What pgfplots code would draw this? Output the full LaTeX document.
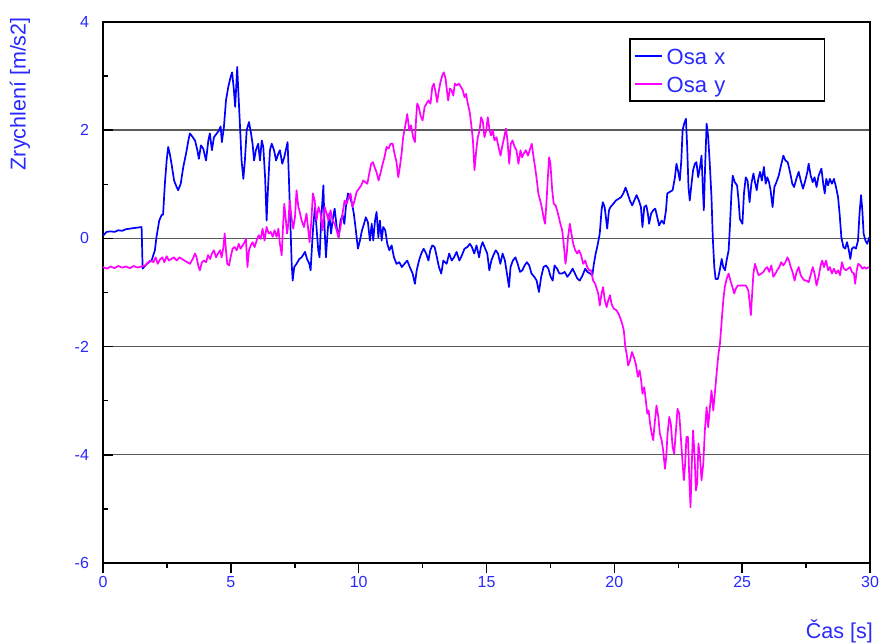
\documentclass[border=0pt]{standalone}
\usepackage{pgfplots}
\pgfplotsset{compat=1.18}
\usepackage{pgfplotstable}
\usepackage{fontspec}
\setmainfont{Liberation Sans}

\definecolor{txtblue}{RGB}{40,40,255}
\definecolor{serx}{RGB}{0,0,255}
\definecolor{sery}{RGB}{255,0,255}
\definecolor{gridgray}{RGB}{90,90,90}

% acceleration along the x axis [m/s2] against time [s]
\pgfplotstableread{
t a
0.00 0.05
0.14 0.12
0.30 0.13
0.45 0.12
0.60 0.15
0.75 0.14
0.90 0.17
1.05 0.18
1.20 0.19
1.35 0.20
1.51 0.21
1.55 -0.56
1.71 -0.47
1.90 -0.41
2.03 -0.22
2.09 0.02
2.20 0.33
2.29 0.43
2.35 0.44
2.42 1.01
2.49 1.44
2.55 1.69
2.61 1.57
2.69 1.35
2.78 1.07
2.88 0.95
2.94 0.89
3.04 1.01
3.14 1.32
3.25 1.57
3.34 1.81
3.40 1.94
3.51 1.87
3.60 1.81
3.69 1.63
3.75 1.47
3.83 1.72
3.92 1.66
4.03 1.44
4.12 1.81
4.18 1.94
4.26 1.63
4.34 1.87
4.45 1.94
4.54 2.00
4.60 2.07
4.65 1.78
4.73 2.06
4.81 2.55
4.90 2.80
4.99 2.98
5.05 3.07
5.12 2.74
5.17 2.43
5.25 3.17
5.31 2.55
5.36 2.06
5.42 1.44
5.49 1.10
5.55 1.44
5.62 2.00
5.71 2.15
5.79 1.94
5.85 1.75
5.91 1.44
5.98 1.63
6.07 1.75
6.14 1.44
6.21 1.81
6.27 1.69
6.34 1.13
6.40 0.33
6.45 0.89
6.53 1.63
6.60 1.75
6.69 1.63
6.77 1.44
6.86 1.57
6.92 1.63
7.01 1.38
7.09 1.50
7.15 1.63
7.22 1.78
7.27 1.13
7.33 0.27
7.38 -0.47
7.42 -0.78
7.48 -0.53
7.57 -0.47
7.68 -0.38
7.77 -0.35
7.90 -0.25
7.98 -0.38
8.07 -0.47
8.12 -0.59
8.18 -0.10
8.22 0.21
8.29 0.58
8.36 0.15
8.42 -0.22
8.47 -0.35
8.54 0.39
8.62 0.98
8.67 0.15
8.72 -0.35
8.79 0.15
8.85 0.46
8.92 0.09
8.98 0.33
9.06 0.55
9.14 0.21
9.22 0.02
9.29 0.33
9.37 0.43
9.44 0.27
9.50 0.58
9.58 0.83
9.66 0.76
9.74 0.64
9.81 0.46
9.89 0.15
9.97 -0.19
10.05 -0.04
10.13 0.15
10.21 0.27
10.28 0.39
10.36 0.30
10.44 -0.04
10.51 0.27
10.57 -0.04
10.64 0.33
10.70 0.49
10.77 0.02
10.83 0.33
10.90 -0.04
10.96 0.21
11.04 0.15
11.12 -0.10
11.20 -0.22
11.29 -0.13
11.38 -0.35
11.48 -0.47
11.59 -0.44
11.69 -0.53
11.79 -0.47
11.90 -0.41
12.00 -0.53
12.11 -0.65
12.20 -0.84
12.27 -0.59
12.36 -0.41
12.45 -0.28
12.54 -0.19
12.64 -0.28
12.73 -0.41
12.80 -0.22
12.88 -0.13
12.97 -0.16
13.06 -0.35
13.14 -0.53
13.23 -0.65
13.31 -0.41
13.44 -0.47
13.54 -0.28
13.64 -0.41
13.73 -0.35
13.83 -0.25
13.94 -0.41
14.04 -0.31
14.14 -0.19
14.25 -0.16
14.35 -0.10
14.43 -0.16
14.52 -0.28
14.61 -0.13
14.71 -0.35
14.78 -0.16
14.85 -0.07
14.94 -0.18
15.03 -0.28
15.11 -0.59
15.19 -0.41
15.27 -0.31
15.36 -0.22
15.45 -0.28
15.54 -0.47
15.63 -0.28
15.72 -0.41
15.80 -0.65
15.88 -0.90
15.94 -0.53
16.03 -0.41
16.13 -0.35
16.22 -0.47
16.31 -0.62
16.40 -0.59
16.49 -0.50
16.58 -0.44
16.67 -0.50
16.76 -0.65
16.87 -0.71
16.96 -0.78
17.05 -0.99
17.14 -0.71
17.23 -0.53
17.33 -0.50
17.42 -0.56
17.51 -0.71
17.59 -0.78
17.66 -0.50
17.76 -0.56
17.85 -0.65
17.95 -0.65
18.06 -0.62
18.16 -0.71
18.26 -0.65
18.37 -0.56
18.46 -0.65
18.55 -0.74
18.65 -0.78
18.76 -0.68
18.86 -0.56
18.95 -0.62
19.05 -0.65
19.14 -0.68
19.20 -0.47
19.27 -0.28
19.33 -0.16
19.43 0.09
19.50 0.52
19.55 0.67
19.62 0.58
19.67 0.39
19.72 0.18
19.79 0.52
19.85 0.58
19.96 0.64
20.06 0.70
20.16 0.73
20.26 0.76
20.35 0.83
20.44 0.94
20.52 0.83
20.61 0.70
20.70 0.61
20.78 0.70
20.87 0.80
20.96 0.70
21.04 0.58
21.10 0.21
21.17 0.58
21.25 0.61
21.31 0.46
21.36 0.27
21.44 0.46
21.52 0.52
21.60 0.55
21.68 0.39
21.75 0.24
21.85 0.33
21.94 0.27
22.02 0.52
22.07 0.83
22.17 0.86
22.28 0.89
22.37 1.13
22.43 1.38
22.50 1.23
22.56 1.07
22.62 1.44
22.67 2.00
22.73 2.12
22.80 2.21
22.85 1.69
22.90 0.95
22.95 0.70
23.02 1.01
23.08 1.26
23.15 1.38
23.21 1.41
23.28 1.13
23.35 1.32
23.41 1.53
23.46 0.95
23.50 0.52
23.55 1.32
23.61 2.12
23.67 1.88
23.74 1.32
23.80 0.76
23.85 0.02
23.91 -0.53
23.96 -0.75
24.05 -0.75
24.11 -0.62
24.20 -0.38
24.26 -0.53
24.33 -0.59
24.39 -0.41
24.47 -0.22
24.52 0.21
24.58 0.83
24.63 1.16
24.71 1.04
24.80 0.98
24.86 0.70
24.91 0.36
25.01 0.27
25.07 0.83
25.14 1.13
25.21 1.07
25.29 0.67
25.36 1.01
25.44 1.20
25.50 1.04
25.57 0.89
25.63 1.10
25.70 1.23
25.77 1.07
25.85 1.32
25.92 1.01
25.98 1.13
26.05 1.04
26.11 0.89
26.19 0.58
26.26 0.95
26.34 1.04
26.43 1.16
26.52 1.35
26.61 1.53
26.69 1.44
26.78 1.41
26.87 1.23
26.96 1.01
27.03 0.95
27.12 1.10
27.21 1.23
27.29 1.07
27.38 0.92
27.47 1.07
27.55 1.23
27.60 1.38
27.68 1.16
27.76 1.04
27.83 1.13
27.91 0.95
27.99 1.16
28.10 1.29
28.17 1.01
28.23 0.83
28.29 1.10
28.36 0.98
28.43 1.10
28.51 1.01
28.59 1.10
28.67 0.95
28.75 0.76
28.81 0.46
28.88 0.02
28.96 -0.16
29.03 -0.19
29.10 -0.07
29.16 -0.19
29.23 -0.38
29.29 -0.19
29.37 -0.16
29.45 -0.19
29.53 -0.04
29.59 0.46
29.65 0.80
29.70 0.52
29.75 0.09
29.82 -0.04
29.89 -0.10
29.97 0.02
}\osax

% acceleration along the y axis [m/s2] against time [s]
\pgfplotstableread{
t a
0.00 -0.53
0.15 -0.56
0.30 -0.52
0.45 -0.55
0.60 -0.51
0.75 -0.54
0.90 -0.52
1.05 -0.55
1.20 -0.51
1.35 -0.54
1.50 -0.52
1.65 -0.50
1.84 -0.41
1.97 -0.44
2.06 -0.35
2.14 -0.47
2.23 -0.39
2.32 -0.35
2.40 -0.44
2.49 -0.33
2.58 -0.41
2.67 -0.38
2.78 -0.35
2.88 -0.41
2.99 -0.35
3.09 -0.38
3.19 -0.41
3.30 -0.44
3.40 -0.47
3.51 -0.38
3.60 -0.28
3.66 -0.35
3.74 -0.53
3.79 -0.59
3.87 -0.44
3.95 -0.41
4.03 -0.44
4.11 -0.31
4.19 -0.38
4.26 -0.28
4.34 -0.22
4.42 -0.35
4.50 -0.28
4.58 -0.22
4.64 -0.35
4.71 -0.16
4.76 0.09
4.81 -0.22
4.86 -0.47
4.93 -0.50
4.99 -0.35
5.07 -0.19
5.15 -0.16
5.23 -0.22
5.31 -0.10
5.38 -0.19
5.46 -0.13
5.54 -0.07
5.59 -0.01
5.65 -0.53
5.71 -0.22
5.78 -0.13
5.85 -0.07
5.93 -0.16
6.01 -0.04
6.09 0.06
6.17 -0.01
6.24 0.18
6.32 -0.04
6.40 0.21
6.48 0.09
6.56 0.12
6.64 0.03
6.71 0.15
6.79 0.03
6.86 0.18
6.92 -0.10
6.99 -0.31
7.04 0.21
7.09 0.64
7.14 0.40
7.20 0.09
7.25 0.27
7.30 0.70
7.37 0.40
7.44 0.18
7.51 0.40
7.57 0.89
7.64 0.58
7.68 0.52
7.77 0.33
7.86 0.21
7.96 0.46
8.03 0.15
8.08 -0.07
8.15 0.33
8.21 0.83
8.28 0.70
8.35 0.33
8.43 0.58
8.51 0.46
8.59 0.15
8.67 0.58
8.75 0.46
8.82 0.33
8.90 0.52
8.98 0.33
9.06 0.27
9.14 0.15
9.21 0.02
9.29 0.21
9.37 0.46
9.45 0.70
9.53 0.64
9.61 0.76
9.68 0.83
9.76 0.58
9.84 0.70
9.92 0.86
10.01 0.92
10.10 0.98
10.18 1.07
10.26 1.04
10.34 1.01
10.41 1.19
10.49 1.38
10.56 1.41
10.62 1.32
10.70 1.22
10.78 1.07
10.86 1.22
10.94 1.38
11.01 1.50
11.09 1.69
11.17 1.66
11.25 1.75
11.33 1.75
11.40 1.57
11.48 1.41
11.55 1.13
11.61 1.32
11.68 1.57
11.74 1.87
11.85 2.15
11.90 2.30
11.98 2.00
12.05 2.09
12.13 1.87
12.20 1.78
12.25 2.24
12.29 2.49
12.35 2.43
12.42 2.27
12.50 2.18
12.58 2.43
12.65 2.49
12.73 2.55
12.81 2.49
12.88 2.80
12.94 2.86
13.01 2.70
13.07 2.52
13.14 2.74
13.20 2.89
13.27 3.01
13.33 3.07
13.40 2.95
13.45 2.74
13.50 2.55
13.57 2.77
13.63 2.74
13.70 2.64
13.76 2.86
13.84 2.83
13.92 2.86
14.00 2.80
14.07 2.74
14.14 2.61
14.20 2.67
14.27 2.49
14.34 2.34
14.40 2.12
14.47 1.81
14.53 1.26
14.60 1.63
14.66 1.87
14.73 2.00
14.79 2.24
14.86 2.15
14.92 1.87
14.99 2.00
15.05 2.24
15.12 2.00
15.18 1.90
15.25 2.00
15.31 1.81
15.39 1.87
15.47 1.69
15.55 1.53
15.61 1.69
15.68 1.84
15.76 2.03
15.82 1.81
15.89 1.38
15.95 1.75
16.02 1.81
16.10 1.69
16.17 1.63
16.25 1.38
16.33 1.63
16.39 1.50
16.46 1.57
16.54 1.63
16.62 1.53
16.69 1.63
16.77 1.75
16.84 1.50
16.90 1.32
16.97 1.07
17.03 0.82
17.10 0.70
17.16 0.58
17.23 0.39
17.29 0.27
17.35 0.70
17.40 1.13
17.45 1.50
17.50 1.38
17.57 0.89
17.63 0.64
17.70 0.61
17.76 0.52
17.83 0.39
17.89 0.27
17.96 0.15
18.02 -0.10
18.09 -0.47
18.14 -0.28
18.19 0.03
18.26 0.27
18.32 0.09
18.39 -0.10
18.47 -0.22
18.55 -0.28
18.62 -0.22
18.70 -0.31
18.78 -0.47
18.86 -0.41
18.94 -0.53
19.02 -0.59
19.09 -0.59
19.17 -0.78
19.25 -0.84
19.33 -0.96
19.37 -1.02
19.43 -1.24
19.50 -1.02
19.56 -0.90
19.63 -1.15
19.70 -1.27
19.76 -1.15
19.83 -1.05
19.89 -1.21
19.98 -1.30
20.09 -1.33
20.19 -1.42
20.29 -1.55
20.37 -1.70
20.43 -2.01
20.48 -2.13
20.54 -2.35
20.61 -2.26
20.69 -2.10
20.76 -2.19
20.84 -2.32
20.92 -2.56
20.99 -2.44
21.05 -2.63
21.10 -2.87
21.17 -2.75
21.23 -2.99
21.29 -3.24
21.34 -3.18
21.40 -3.43
21.45 -3.58
21.52 -3.73
21.59 -3.36
21.65 -3.09
21.72 -3.30
21.78 -3.61
21.85 -3.73
21.91 -3.92
21.98 -4.26
22.03 -4.04
22.08 -3.61
22.15 -3.30
22.21 -3.43
22.28 -3.86
22.34 -3.98
22.41 -3.55
22.47 -3.15
22.54 -3.24
22.60 -3.67
22.67 -4.16
22.72 -4.47
22.77 -4.16
22.82 -3.67
22.88 -3.67
22.93 -4.41
22.98 -4.97
23.03 -4.16
23.08 -3.55
23.14 -4.04
23.19 -4.66
23.24 -4.53
23.29 -3.79
23.35 -4.04
23.41 -4.47
23.48 -4.16
23.54 -3.55
23.61 -3.12
23.67 -3.49
23.74 -3.12
23.80 -2.81
23.87 -3.18
23.93 -2.87
24.00 -2.50
24.06 -2.19
24.13 -1.95
24.19 -1.58
24.26 -1.15
24.32 -0.90
24.39 -0.75
24.47 -0.65
24.54 -0.78
24.62 -0.90
24.69 -1.02
24.75 -0.93
24.83 -0.87
24.94 -0.87
25.04 -0.87
25.14 -0.87
25.24 -0.96
25.30 -1.21
25.34 -1.42
25.39 -1.02
25.44 -0.65
25.50 -0.47
25.56 -0.56
25.64 -0.68
25.75 -0.65
25.83 -0.62
25.91 -0.56
25.98 -0.53
26.06 -0.62
26.14 -0.50
26.22 -0.71
26.30 -0.65
26.37 -0.59
26.45 -0.53
26.53 -0.44
26.61 -0.50
26.69 -0.44
26.77 -0.35
26.83 -0.41
26.90 -0.53
26.97 -0.62
27.05 -0.78
27.13 -0.62
27.21 -0.53
27.29 -0.68
27.37 -0.74
27.44 -0.78
27.52 -0.78
27.60 -0.81
27.68 -0.68
27.76 -0.53
27.83 -0.65
27.91 -0.87
27.99 -0.71
28.07 -0.50
28.13 -0.41
28.20 -0.53
28.28 -0.41
28.36 -0.59
28.43 -0.53
28.51 -0.65
28.59 -0.56
28.67 -0.65
28.75 -0.59
28.83 -0.68
28.90 -0.44
28.98 -0.56
29.06 -0.59
29.14 -0.56
29.22 -0.53
29.29 -0.62
29.37 -0.65
29.42 -0.84
29.48 -0.59
29.54 -0.47
29.62 -0.50
29.70 -0.56
29.78 -0.53
29.86 -0.56
29.95 -0.53
}\osay

\begin{document}
\begin{tikzpicture}
\begin{axis}[
  scale only axis,
  width=767pt, height=541pt,
  xmin=0, xmax=30, ymin=-6, ymax=4,
  xtick={0,5,...,30}, ytick={-6,-4,...,4},
  xticklabels={0,5,10,15,20,25,30},
  yticklabels={-6,-4,-2,0,2,4},
  minor x tick num=1, minor y tick num=1,
  xtick pos=bottom, ytick pos=left,
  % y ticks point into the plot, x ticks are moved below the axis line
  tick align=inside,
  major tick length=10pt, minor tick length=5pt,
  tick style={black, line width=1.5pt},
  major x tick style={yshift=-10pt},
  minor x tick style={yshift=-5pt},
  ymajorgrids,
  major grid style={gridgray, line width=1.4pt},
  axis line style={black, line width=1.8pt},
  ticklabel style={font=\fontsize{16}{19}\selectfont, text=txtblue},
  xticklabel style={yshift=-10pt},
  yticklabel style={xshift=-10.5pt},
  xlabel={Čas [s]},
  xlabel style={at={(axis description cs:1.0039,-0.139)}, anchor=base east,
    inner sep=0pt, font=\fontsize{21.5}{25}\selectfont, text=txtblue},
  ylabel={Zrychlení [m/s2]},
  ylabel style={at={(axis description cs:-0.1082,1.009)}, anchor=east,
    inner sep=0pt, font=\fontsize{21.5}{25}\selectfont, text=txtblue},
  legend style={at={(axis description cs:0.686,0.970)}, anchor=north west,
    draw=black, line width=1.6pt, fill=white,
    inner xsep=4pt, inner ysep=3pt, column sep=4pt, row sep=0pt,
    font=\fontsize{22}{26}\selectfont, text=txtblue,
    nodes={inner xsep=0pt, inner ysep=4pt, text width=154pt,
      text height=18pt, text depth=2pt, align=left}},
  legend cell align=left,
  legend image code/.code={\draw[#1] (0pt,0pt) -- (27pt,0pt);},
  every axis plot/.append style={line width=1.7pt, line join=round},
]
\addplot[serx] table[x=t, y=a] {\osax};
\addlegendentry{Osa x}
\addplot[sery] table[x=t, y=a] {\osay};
\addlegendentry{Osa y}
\end{axis}
\pgfresetboundingbox
\path[use as bounding box] (-103pt,-81pt) rectangle (779pt,563pt);
\end{tikzpicture}
\end{document}
